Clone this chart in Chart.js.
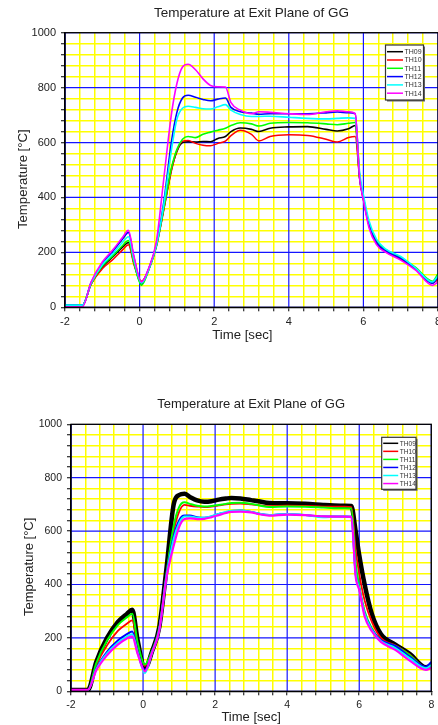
<!DOCTYPE html>
<html>
<head>
<meta charset="utf-8">
<script src="https://cdn.jsdelivr.net/npm/chart.js@4.4.1/dist/chart.umd.min.js"></script>
<style>
  html, body { margin: 0; padding: 0; background: #fff; overflow: hidden; }
  body { width: 438px; height: 725px; position: relative; }
  .holder { position: absolute; left: 0; }
  #topHolder { top: 0; }
  #bottomHolder { top: 360px; }
</style>
</head>
<body>
<div class="holder" id="topHolder"><canvas id="chartTop" width="460" height="345"></canvas></div>
<div class="holder" id="bottomHolder"><canvas id="chartBottom" width="438" height="365"></canvas></div>
<script>
// Time axis shared by both runs (sec)
const times = [-2, -1.53, -1.3, -1.0, -0.7, -0.45, -0.3, -0.15, 0.05, 0.25, 0.45, 0.65, 0.85, 1.0,
    1.15, 1.3, 1.5, 1.7, 1.9, 2.1, 2.3, 2.45, 2.7, 3.0, 3.2, 3.5, 4.0, 4.5, 5.0, 5.3, 5.6, 5.78,
    5.9, 6.0, 6.15, 6.35, 6.6, 7.0, 7.4, 7.85, 8.0];

const seriesNames = ['TH09', 'TH10', 'TH11', 'TH12', 'TH13', 'TH14'];
const seriesColors = ['#000000', '#ff0000', '#00ff00', '#0000ff', '#00ffff', '#ff00ff'];

const xTicks = [-2, 0, 2, 4, 6, 8];
const yTicks = [0, 200, 400, 600, 800, 1000];

// Upper plot, temperatures in degC
const topTH09 = [8, 8, 85, 147, 186, 220, 236, 160, 85, 140, 225, 360, 500, 568, 600, 603, 602, 604, 603, 615, 622, 640, 653, 648, 640, 652, 657, 658, 648, 642, 650, 662, 470, 395, 300, 235, 203, 176, 140, 88, 105];
const topTH10 = [8, 8, 84, 140, 176, 210, 228, 155, 95, 140, 222, 355, 495, 570, 605, 607, 597, 590, 588, 597, 605, 625, 645, 630, 606, 622, 628, 626, 612, 602, 618, 622, 468, 393, 298, 233, 203, 176, 140, 90, 100];
const topTH11 = [8, 8, 86, 150, 190, 226, 243, 162, 80, 138, 222, 362, 505, 575, 612, 622, 618, 630, 638, 645, 652, 662, 672, 668, 660, 670, 673, 672, 668, 665, 670, 673, 472, 398, 303, 240, 210, 182, 145, 95, 122];
const topTH12 = [8, 8, 90, 160, 207, 250, 273, 180, 90, 142, 228, 385, 600, 710, 762, 772, 765, 757, 752, 758, 762, 728, 712, 707, 703, 705, 705, 705, 708, 711, 709, 705, 475, 400, 302, 236, 205, 178, 140, 88, 110];
const topTH13 = [8, 8, 88, 155, 198, 238, 257, 172, 88, 140, 226, 375, 570, 685, 725, 732, 728, 723, 722, 730, 738, 718, 702, 695, 695, 696, 692, 688, 686, 688, 690, 688, 490, 410, 315, 248, 212, 185, 143, 92, 115];
const topTH14 = [2, 2, 92, 165, 212, 256, 280, 185, 92, 145, 240, 470, 700, 815, 875, 885, 865, 832, 808, 803, 802, 745, 718, 705, 712, 710, 705, 702, 712, 716, 712, 705, 468, 390, 290, 228, 200, 172, 135, 80, 92];

// Lower plot, temperatures in degC
const botTH09 = [5, 5, 110, 200, 260, 290, 305, 190, 85, 150, 240, 460, 700, 735, 740, 728, 715, 710, 712, 718, 722, 724, 722, 716, 712, 705, 704, 702, 698, 696, 695, 694, 600, 510, 400, 290, 215, 175, 140, 90, 95];
const botTH10 = [5, 5, 98, 172, 226, 253, 266, 170, 95, 150, 235, 440, 600, 672, 698, 695, 692, 690, 692, 696, 700, 702, 703, 700, 697, 693, 695, 694, 692, 692, 692, 690, 530, 440, 340, 260, 200, 172, 138, 90, 95];
const botTH11 = [5, 5, 105, 190, 248, 277, 290, 182, 100, 152, 238, 440, 620, 690, 708, 702, 695, 692, 694, 698, 702, 705, 706, 702, 697, 690, 692, 691, 688, 686, 686, 685, 480, 395, 300, 235, 190, 170, 136, 88, 92];
const botTH12 = [5, 5, 85, 148, 190, 214, 224, 150, 80, 148, 232, 435, 580, 640, 658, 658, 652, 650, 655, 664, 670, 675, 677, 672, 666, 660, 664, 660, 655, 655, 655, 654, 440, 385, 290, 232, 192, 170, 130, 92, 110];
const botTH13 = [5, 5, 82, 142, 182, 205, 214, 145, 68, 145, 230, 430, 570, 630, 655, 655, 650, 650, 656, 664, 672, 676, 677, 672, 666, 660, 664, 660, 652, 654, 655, 654, 440, 385, 290, 230, 188, 162, 124, 86, 98];
const botTH14 = [5, 5, 78, 135, 175, 198, 206, 140, 75, 145, 228, 425, 545, 615, 645, 648, 645, 646, 652, 660, 668, 672, 673, 670, 664, 658, 662, 660, 655, 654, 654, 653, 430, 380, 280, 225, 185, 155, 115, 80, 88];

const FONT = '"Liberation Sans", Arial, Helvetica, sans-serif';
const TEXT = '#222';

function isMajor(v, list) {
    return list.some(m => Math.abs(m - v) < 1e-6);
}

// blue major grid drawn over the yellow minor grid
const majorGrid = {
    id: 'majorGrid',
    beforeDatasetsDraw(chart) {
        const a = chart.chartArea;
        const ctx = chart.ctx;
        const xs = chart.scales.x, ys = chart.scales.y;
        ctx.save();
        ctx.beginPath();
        ctx.rect(a.left, a.top, a.right - a.left, a.bottom - a.top);
        ctx.clip();
        ctx.strokeStyle = '#1414ff';
        ctx.lineWidth = 1.2;
        ctx.beginPath();
        xTicks.forEach(v => {
            const p = xs.getPixelForValue(v);
            ctx.moveTo(p, a.top);
            ctx.lineTo(p, a.bottom);
        });
        yTicks.forEach(v => {
            const p = ys.getPixelForValue(v);
            ctx.moveTo(a.left, p);
            ctx.lineTo(a.right, p);
        });
        ctx.stroke();
        ctx.restore();
    },
    afterDatasetsDraw(chart) {
        // black frame round the plot area
        const a = chart.chartArea;
        const ctx = chart.ctx;
        ctx.save();
        ctx.strokeStyle = '#000';
        ctx.lineWidth = 1.3;
        ctx.strokeRect(a.left, a.top, a.right - a.left, a.bottom - a.top);
        ctx.restore();
    }
};

// boxed legend inside the plot, like the original
const boxLegend = {
    id: 'boxLegend',
    afterDraw(chart, args, o) {
        const ctx = chart.ctx;
        ctx.save();
        ctx.fillStyle = '#666';
        ctx.fillRect(o.x + 1.5, o.y + 1.5, o.w, o.h);
        ctx.fillStyle = '#fff';
        ctx.fillRect(o.x, o.y, o.w, o.h);
        ctx.strokeStyle = '#333';
        ctx.lineWidth = 1.2;
        ctx.strokeRect(o.x, o.y, o.w, o.h);
        ctx.font = o.fontSize + 'px ' + FONT;
        ctx.textBaseline = 'middle';
        chart.data.datasets.forEach((ds, i) => {
            const y = o.y + o.firstRow + i * o.rowH;
            ctx.strokeStyle = ds.borderColor;
            ctx.lineWidth = 1.5;
            ctx.beginPath();
            ctx.moveTo(o.x + 1.5, y);
            ctx.lineTo(o.x + 1.5 + o.lineLen, y);
            ctx.stroke();
            ctx.fillStyle = '#333';
            ctx.fillText(ds.label, o.x + 3 + o.lineLen, y + 0.5);
        });
        ctx.restore();
    }
};

function buildDatasets(series, widths) {
    return series.map((vals, i) => ({
        label: seriesNames[i],
        data: times.map((t, k) => ({ x: t, y: vals[k] })),
        borderColor: seriesColors[i],
        backgroundColor: seriesColors[i],
        borderWidth: widths[i],
        pointRadius: 0,
        cubicInterpolationMode: 'monotone',
        order: series.length - 1 - i
    }));
}

function makeChart(id, series, widths, cfg) {
    const ctx = document.getElementById(id).getContext('2d');
    return new Chart(ctx, {
        type: 'line',
        data: { datasets: buildDatasets(series, widths) },
        plugins: [majorGrid, boxLegend],
        options: {
            responsive: false,
            animation: false,
            layout: { padding: { left: 0, right: cfg.padRight, top: 0, bottom: 0 } },
            plugins: {
                legend: { display: false },
                tooltip: { enabled: false },
                title: {
                    display: true,
                    text: 'Temperature at Exit Plane of GG',
                    color: TEXT,
                    fullSize: false,
                    font: { family: FONT, size: cfg.titleSize, weight: 'normal' },
                    padding: cfg.titlePad
                },
                boxLegend: cfg.legend
            },
            scales: {
                x: {
                    type: 'linear',
                    min: -2,
                    max: 8,
                    afterFit: s => { s.height = cfg.xHeight; },
                    ticks: {
                        stepSize: 0.4,
                        autoSkip: false,
                        maxRotation: 0,
                        padding: cfg.xTickPad,
                        color: TEXT,
                        font: { family: FONT, size: cfg.tickSize },
                        callback: v => isMajor(v, xTicks) ? String(Math.round(v)) : ''
                    },
                    grid: {
                        color: c => (c.tick && isMajor(c.tick.value, xTicks)) ? 'rgba(0,0,0,0)' : '#ffff00',
                        lineWidth: 1.5,
                        tickLength: 4,
                        tickColor: '#000',
                        tickWidth: 1
                    },
                    border: { color: '#000', width: 1.3 },
                    title: {
                        display: true,
                        text: cfg.xTitle,
                        color: TEXT,
                        font: { family: FONT, size: cfg.axisTitleSize },
                        padding: { top: 0, bottom: cfg.xTitlePad }
                    }
                },
                y: {
                    min: 0,
                    max: 1000,
                    afterFit: s => { s.width = cfg.yWidth; },
                    ticks: {
                        stepSize: 40,
                        autoSkip: false,
                        padding: 5,
                        color: TEXT,
                        font: { family: FONT, size: cfg.tickSize },
                        callback: v => isMajor(v, yTicks) ? String(Math.round(v)) : ''
                    },
                    grid: {
                        color: c => (c.tick && isMajor(c.tick.value, yTicks)) ? 'rgba(0,0,0,0)' : '#ffff00',
                        lineWidth: 1.5,
                        tickLength: 4,
                        tickColor: '#000',
                        tickWidth: 1
                    },
                    border: { color: '#000', width: 1.3 },
                    title: {
                        display: true,
                        text: 'Temperature [°C]     ',
                        color: TEXT,
                        font: { family: FONT, size: cfg.axisTitleSize },
                        padding: { top: cfg.yTitlePad, bottom: 0 }
                    }
                }
            }
        }
    });
}

makeChart('chartTop',
    [topTH09, topTH10, topTH11, topTH12, topTH13, topTH14],
    [1.6, 1.5, 1.6, 1.6, 1.6, 1.6],
    {
        padRight: 22, titleSize: 13.5, titlePad: { top: 5, bottom: 11.5 },
        xHeight: 37.7, yWidth: 65, tickSize: 11, xTickPad: 4.5, axisTitleSize: 13.2,
        xTitle: 'Time [sec]     ', xTitlePad: 2, yTitlePad: 15,
        legend: { x: 385.5, y: 45, w: 38, h: 55, firstRow: 6.7, rowH: 8.3, lineLen: 16, fontSize: 7 }
    });

makeChart('chartBottom',
    [botTH09, botTH10, botTH11, botTH12, botTH13, botTH14],
    [4.5, 1.8, 2, 2, 2, 2.2],
    {
        padRight: 6.7, titleSize: 13, titlePad: { top: 37, bottom: 11.7 },
        xHeight: 33.7, yWidth: 71, tickSize: 10.5, xTickPad: 3.4, axisTitleSize: 13,
        xTitle: 'Time [sec]', xTitlePad: 0, yTitlePad: 22,
        legend: { x: 381.7, y: 77.3, w: 34.3, h: 52, firstRow: 6, rowH: 8.05, lineLen: 15, fontSize: 6.6 }
    });
</script>
</body>
</html>
